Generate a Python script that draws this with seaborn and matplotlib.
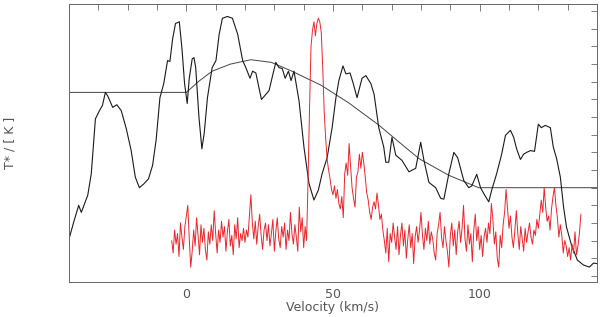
import numpy as np
import pandas as pd
import matplotlib
matplotlib.use("Agg")
import matplotlib.pyplot as plt
from matplotlib.ticker import MultipleLocator, NullFormatter
import seaborn as sns

# ------ Data ------ #

# Black spectrum (velocity km/s, T*)
black_v = [-40.1, -38.4, -36.7, -35.8, -33.6, -32.4, -31.0, -29.6, -28.6, -27.6, -26.8, -25.1,
           -23.7, -22.2, -20.5, -18.8, -17.4, -16.0, -14.6, -12.9, -11.5, -10.3, -9.0, -7.7,
           -6.4, -5.6, -4.7, -3.7, -2.4, -1.5, -0.6, 0.3, 1.0, 2.0, 2.6, 3.2, 4.3, 5.3, 6.1,
           7.2, 8.8, 10.1, 11.2, 12.3, 14.0, 15.7, 17.5, 19.2, 20.3, 21.7, 22.6, 23.7, 25.6,
           27.2, 28.2, 29.4, 30.5, 31.6, 32.7, 33.7, 34.8, 35.7, 36.7, 38.4, 40.1, 41.8, 43.5,
           45.0, 46.3, 48.0, 49.7, 51.0, 52.0, 53.4, 54.4, 55.8, 56.8, 58.2, 59.9, 61.2, 62.9,
           64.0, 65.6, 67.3, 68.0, 69.0, 70.1, 71.4, 72.4, 73.5, 75.9, 78.2, 79.9, 81.0, 82.7,
           85.0, 86.7, 87.8, 89.5, 91.2, 92.5, 94.6, 96.3, 97.3, 99.0, 100.3, 101.7, 103.1,
           104.1, 105.8, 107.5, 108.8, 110.5, 111.6, 112.6, 113.9, 115.0, 116.0, 117.3, 118.7,
           120.0, 121.0, 122.4, 124.1, 125.1, 126.2, 127.5, 128.6, 129.6, 131.3, 133.3, 135.4,
           137.4, 138.8, 140.0]
black_t = [2.03, 3.05, 4.0, 3.6, 4.58, 5.8, 8.9, 9.37, 9.66, 10.4, 10.2, 9.55,
           9.7, 9.37, 8.36, 7.1, 5.6, 5.0, 5.2, 5.5, 6.27, 7.7, 10.1, 10.9,
           12.2, 12.15, 13.4, 14.3, 14.4, 12.9, 10.9, 9.77, 11.2, 12.3, 12.37, 11.8, 9.0, 7.2, 8.1,
           10.1, 11.8, 12.2, 13.7, 14.6, 14.7, 14.6, 13.7, 12.2, 11.8, 11.2, 11.6, 11.5, 10.0,
           10.3, 10.5, 11.35, 12.1, 11.8, 11.75, 11.2, 11.6, 11.07, 11.6, 9.94, 7.3, 5.25, 4.3,
           4.86, 5.8, 6.7, 8.4, 10.1, 11.07, 11.9, 11.45, 11.5, 10.96, 10.1, 11.2, 11.35, 10.9,
           10.3, 8.4, 7.3, 6.44, 6.44, 7.85, 6.84, 6.7, 6.55, 5.9, 6.1, 7.57, 6.55, 5.3,
           5.0, 4.4, 4.35, 5.8, 7.0, 6.7, 5.4, 5.0, 5.1, 5.76, 5.0, 4.58, 4.2,
           4.86, 5.8, 6.9, 7.97, 8.25, 7.85, 7.2, 6.6, 6.9, 7.0, 7.1, 7.06,
           8.6, 8.4, 8.53, 8.4, 7.3, 6.67, 5.6, 3.9, 2.77, 1.75, 0.9, 0.62,
           0.5, 0.73, 0.7]

# Fitted profile: flat baseline, gaussian + sloped baseline, flat baseline
fit_v = [-40.0, 0.0, 4.4, 8.8, 15.0, 22.0, 29.0, 36.0, 46.0, 55.4, 65.6, 72.4, 79.3, 89.5,
         99.7, 140.0]
fit_t = [10.4, 10.4, 11.05, 11.6, 12.0, 12.25, 12.1, 11.6, 10.8, 9.8, 8.55, 7.6, 6.65, 5.7,
         5.0, 5.0]

# Red spectrum, channels every 0.5 km/s starting at -5 km/s
red_start = -5.0
red_step = 0.5
red_t = [2.0, 1.3, 2.6, 1.8, 2.4, 1.1, 3.0, 2.2, 1.5, 2.8,
         3.4, 4.0, 2.1, 0.5, 1.4, 2.6, 1.7, 3.3, 2.3, 1.2,
         2.9, 1.9, 2.7, 1.5, 0.9, 2.5, 1.8, 2.9, 2.0, 3.7,
         2.4, 1.3, 2.6, 1.9, 3.1, 2.2, 2.8, 1.4, 2.5, 3.2,
         1.7, 2.3, 1.2, 2.9, 2.1, 3.3, 1.6, 2.4, 2.0, 2.7,
         1.9, 2.6, 2.2, 3.4, 4.6, 3.0, 2.1, 3.1, 1.8, 2.8,
         3.5, 2.3, 1.5, 2.6, 3.0, 2.0, 2.9, 1.7, 2.4, 3.2,
         1.4, 2.5, 3.3, 2.1, 1.6, 2.8, 2.2, 3.0, 1.5, 2.6,
         2.0, 3.6, 2.4, 1.8, 2.9, 2.2, 1.4, 3.9, 2.5, 3.3,
         1.6, 2.8, 2.0, 5.5, 9.5, 13.0, 13.9, 14.4, 13.6, 14.3,
         14.6, 14.4, 13.8, 11.8, 9.3, 7.8, 6.6, 6.0, 5.5, 4.9,
         4.6, 5.1, 4.4, 4.9, 4.1, 3.8, 4.5, 3.3, 5.8, 6.4,
         5.7, 7.5, 6.2, 5.0, 4.4, 3.9, 5.6, 5.9, 6.9, 6.1,
         7.0, 6.4, 5.6, 4.7, 4.3, 3.6, 3.2, 3.9, 4.2, 3.8,
         4.7, 4.0, 3.2, 3.5, 2.6, 2.0, 1.3, 2.7, 0.8, 2.4,
         1.9, 3.0, 2.2, 1.5, 2.8, 1.2, 2.3, 3.0, 1.7, 2.6,
         1.0, 2.1, 2.9, 1.6, 2.4, 0.7, 2.2, 2.8, 1.9, 2.6,
         3.6, 2.3, 1.5, 2.7, 2.0, 3.1, 1.8, 2.5, 2.1, 1.3,
         0.9, 2.4, 2.9, 3.6, 2.2, 1.6, 2.8, 2.0, 1.4, 0.5,
         2.3, 3.0, 1.7, 2.6, 1.2, 2.5, 3.1, 1.9, 2.7, 4.0,
         2.1, 1.4, 2.9, 1.8, 2.4, 0.8, 2.6, 3.5, 2.0, 2.8,
         1.5, 2.3, 1.1, 2.2, 2.7, 1.9, 3.0, 2.4, 4.1, 3.2,
         1.8, 2.5, 1.0, 0.5, 2.3, 1.6, 2.9, 3.6, 4.9, 3.8,
         2.7, 3.4, 2.2, 1.6, 2.6, 3.7, 2.4, 1.5, 2.8, 2.1,
         1.4, 2.7, 1.9, 2.5, 3.0, 2.2, 1.8, 2.6, 2.3, 3.2,
         2.7, 3.5, 4.3, 3.6, 5.0, 3.9, 3.1, 3.4, 2.6, 3.8,
         4.5, 5.0, 4.0, 3.3, 2.2, 2.9, 2.3, 1.3, 2.0, 1.7,
         1.1, 1.6, 0.9, 1.8, 1.3, 2.5, 1.2, 1.7, 2.4, 3.5]
red_v = red_start + red_step * np.arange(len(red_t))

x_ticks = [0, 50, 100]

# ------ Plot ------ #

sns.set_style("white")
plt.rcParams['font.family'] = ['DejaVu Sans']

black_df = pd.DataFrame({'v': black_v, 't': black_t})
fit_df = pd.DataFrame({'v': fit_v, 't': fit_t})
red_df = pd.DataFrame({'v': red_v, 't': red_t})

fig = plt.figure(figsize=(6, 3.17), dpi=100)
ax = fig.add_axes([0.115, 0.11, 0.88, 0.877])

sns.lineplot(data=fit_df, x='v', y='t', ax=ax, color='#444444', linewidth=0.7,
             estimator=None, sort=False)
sns.lineplot(data=black_df, x='v', y='t', ax=ax, color='#1a1a1a', linewidth=0.8,
             estimator=None, sort=False)
sns.lineplot(data=red_df, x='v', y='t', ax=ax, color='#e8262c', linewidth=0.7,
             estimator=None, sort=False)

ax.set_xlim(-40, 140)
ax.set_ylim(-0.35, 15.4)

ax.set_xticks(x_ticks)
ax.xaxis.set_minor_locator(MultipleLocator(10))
ax.yaxis.set_major_locator(MultipleLocator(1))
ax.yaxis.set_major_formatter(NullFormatter())
ax.tick_params(axis='both', which='both', direction='in', top=True, right=True,
               color='#666666', width=0.6)
ax.tick_params(axis='x', which='major', length=5, labelsize=9, labelcolor='#555555', pad=4)
ax.tick_params(axis='x', which='minor', length=4)
ax.tick_params(axis='y', which='major', length=4)

for s in ax.spines.values():
    s.set_color('#666666')
    s.set_linewidth(0.7)

ax.set_xlabel("Velocity (km/s)", fontsize=9, color='#555555', labelpad=0)
ax.set_ylabel("T* / [ K ]", fontsize=9, color='#555555')
ax.yaxis.set_label_coords(-0.1, 0.5)

fig.savefig("out.png", dpi=100)
